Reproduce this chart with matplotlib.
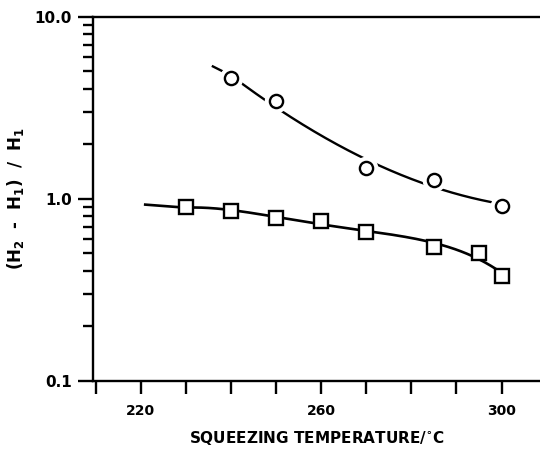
import numpy as np
import matplotlib
matplotlib.use("Agg")
import matplotlib.pyplot as plt
from matplotlib.ticker import FixedLocator, FuncFormatter, LogLocator, NullFormatter

plt.rcParams['font.family'] = ['DejaVu Sans']
plt.rcParams['font.weight'] = 'bold'
plt.rcParams['mathtext.default'] = 'bf'

# data
circle_temp = [240, 250, 270, 285, 300]
circle_val = [4.58, 3.45, 1.47, 1.26, 0.914]
square_temp = [230, 240, 250, 260, 270, 285, 295, 300]
square_val = [0.896, 0.858, 0.780, 0.753, 0.658, 0.544, 0.501, 0.377]
# where the hand-drawn curves begin
circle_curve_from = 236
square_curve_from = 221

x_ticks = [210, 220, 230, 240, 250, 260, 270, 280, 290, 300]
x_labelled = [220, 260, 300]
y_major = [0.1, 1.0, 10.0]

fig = plt.figure(figsize=(5.4, 4.49), dpi=100)
ax = fig.add_axes([0.1722, 0.1521, 0.8278, 0.8111])
ax.set_yscale('log')
ax.set_xlim(209.42, 308.53)
ax.set_ylim(0.1, 10.0)


def fit_curve(tx, vy, x0, deg):
    # least-squares polynomial in log space; straight lead-in before the first point
    x = np.asarray(tx, float)
    ly = np.log10(vy)
    c = np.polyfit(x, ly, deg)
    xs = np.linspace(x0, x.max(), 300)
    out = np.polyval(c, xs)
    if x0 < x[0]:
        slope = (ly[1] - ly[0]) / (x[1] - x[0])
        before = xs < x[0]
        out[before] = np.polyval(c, x[0]) + slope * (xs[before] - x[0])
    return xs, 10 ** out


xs, ys = fit_curve(circle_temp, circle_val, circle_curve_from, 3)
ax.plot(xs, ys, color='black', lw=1.7, zorder=2)
xs, ys = fit_curve(square_temp, square_val, square_curve_from, 4)
ax.plot(xs, ys, color='black', lw=1.9, zorder=2)

# white halo so the line breaks round the circles
ax.plot(circle_temp, circle_val, 'o', ms=16, mfc='white', mec='white', zorder=3)
ax.plot(circle_temp, circle_val, 'o', ms=9.5, mfc='white', mec='black', mew=1.7, zorder=4)
ax.plot(square_temp, square_val, 's', ms=9.5, mfc='white', mec='black', mew=1.7, zorder=4)

for s in ['left', 'top', 'bottom']:
    ax.spines[s].set_linewidth(1.7)
ax.spines['right'].set_visible(False)

ax.xaxis.set_major_locator(FixedLocator(x_ticks))
ax.xaxis.set_major_formatter(FuncFormatter(lambda v, p: f"{v:.0f}" if round(v) in x_labelled else ""))
ax.yaxis.set_major_locator(FixedLocator(y_major))
ax.yaxis.set_major_formatter(FuncFormatter(lambda v, p: f"{v:.1f}"))
ax.yaxis.set_minor_locator(LogLocator(base=10, subs=np.arange(2, 10)))
ax.yaxis.set_minor_formatter(NullFormatter())

ax.tick_params(axis='x', which='major', direction='out', length=9, width=1.7,
               labelsize=10, pad=8)
ax.tick_params(axis='y', which='major', direction='out', length=11, width=1.7,
               labelsize=11, pad=4)
ax.tick_params(axis='y', which='minor', direction='out', length=7, width=1.7)

ax.set_xlabel('SQUEEZING TEMPERATURE/$^{\\circ}$C', fontsize=11, fontweight='bold', labelpad=8)
ax.set_ylabel('(H$_2$  -  H$_1$)  /  H$_1$', fontsize=12, fontweight='bold', labelpad=6)

fig.savefig('out.png', dpi=100)
